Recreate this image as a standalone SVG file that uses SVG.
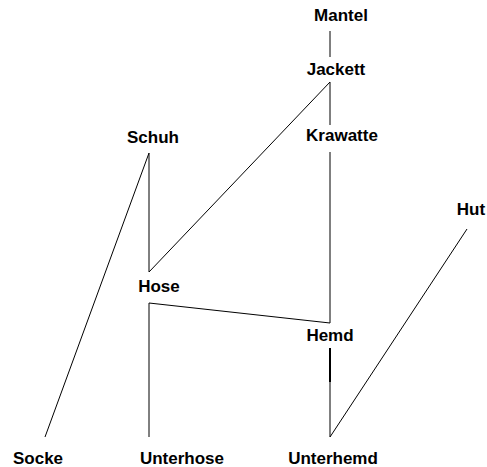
<svg xmlns="http://www.w3.org/2000/svg" width="487" height="467" viewBox="0 0 487 467">
<style>
text{font-family:"Liberation Sans",Arial,sans-serif;font-weight:bold;font-size:17px;fill:#000;text-anchor:middle}
.e line{stroke:#000;stroke-width:1;fill:none}
</style>
<rect width="487" height="467" fill="#fff"/>
<g class="e" id="edges">
<line x1="330" y1="31" x2="330" y2="57"/>
<line x1="330" y1="82" x2="330" y2="125"/>
<line x1="330" y1="82" x2="149" y2="272"/>
<line x1="330" y1="152" x2="330" y2="323"/>
<line x1="149" y1="153" x2="149" y2="272"/>
<line x1="149" y1="153" x2="45" y2="437"/>
<line x1="149" y1="303" x2="149" y2="437"/>
<line x1="149" y1="303" x2="330" y2="323"/>
<line x1="330" y1="348" x2="330" y2="382" style="stroke-width:2"/>
<line x1="330" y1="382" x2="330" y2="437"/>
<line x1="467" y1="229" x2="330" y2="437"/>
</g>
<g id="Mantel"><text x="341" y="21">Mantel</text></g>
<g id="Jackett"><text x="336" y="75">Jackett</text></g>
<g id="Krawatte"><text x="342" y="141">Krawatte</text></g>
<g id="Schuh"><text x="153" y="143">Schuh</text></g>
<g id="Hut"><text x="471" y="215">Hut</text></g>
<g id="Hose"><text x="159" y="292">Hose</text></g>
<g id="Hemd"><text x="330" y="341">Hemd</text></g>
<g id="Socke"><text x="38" y="464">Socke</text></g>
<g id="Unterhose"><text x="182" y="464">Unterhose</text></g>
<g id="Unterhemd"><text x="333" y="464">Unterhemd</text></g>
</svg>
